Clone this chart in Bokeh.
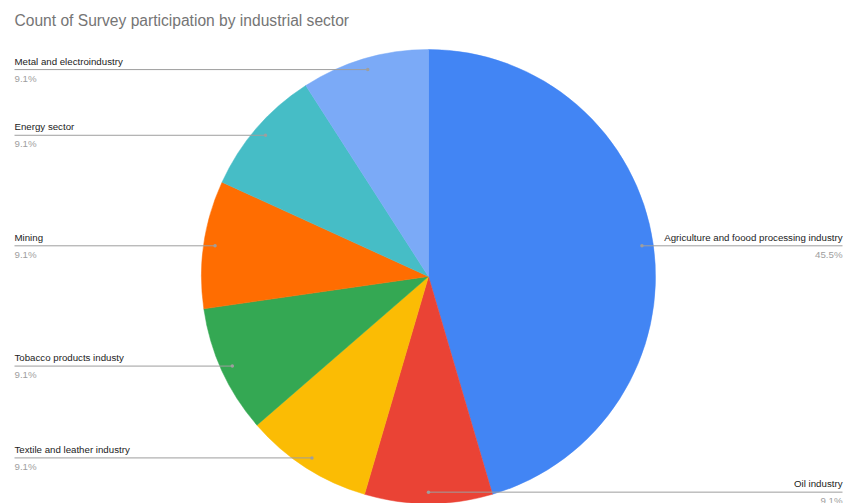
import math
from bokeh.plotting import figure
from bokeh.models import Range1d, ColumnDataSource
from bokeh.core.properties import value
from bokeh.embed import file_html
from bokeh.resources import INLINE

# ---- data ----
sectors = [
    "Agriculture and foood processing industry",
    "Oil industry",
    "Textile and leather industry",
    "Tobacco products industy",
    "Mining",
    "Energy sector",
    "Metal and electroindustry",
]
counts = [5, 1, 1, 1, 1, 1, 1]
colors = ["#4285F4", "#EA4335", "#FBBC04", "#34A853", "#FF6D01", "#46BDC6", "#7BAAF7"]
title_text = "Count of Survey participation by industrial sector"

# ---- layout ----
W, H = 844, 503
cx, cy = 428, H - 276
R = 227
anchor_r = 0.95 * R
left_x, right_x = 14, 842
FONT = value("Liberation Sans")

total = sum(counts)
starts, ends, mids = [], [], []
acc = 0.0
for c in counts:
    a0 = math.pi / 2 - 2 * math.pi * acc / total
    acc += c
    a1 = math.pi / 2 - 2 * math.pi * acc / total
    starts.append(a0)
    ends.append(a1)
    mids.append((a0 + a1) / 2)

p = figure(width=W, height=H, output_backend="svg", toolbar_location=None,
           x_range=Range1d(0, W), y_range=Range1d(0, H), min_border=0)
p.axis.visible = False
p.grid.visible = False
p.outline_line_color = None
p.background_fill_color = "white"

src = ColumnDataSource(dict(start=starts, end=ends, color=colors))
p.wedge(x=cx, y=cy, radius=R, start_angle="start", end_angle="end",
        direction="clock", fill_color="color", line_color="color", line_width=0.5,
        source=src)

# leader lines and labels
lx0, lx1, ly, dotx, doty = [], [], [], [], []
nx, ny, nalign, names, px, py, pcts = [], [], [], [], [], [], []
for name, c, m in zip(sectors, counts, mids):
    ax = cx + anchor_r * math.cos(m)
    ay = cy + anchor_r * math.sin(m)
    right = math.cos(m) > -0.01
    ex = right_x if right else left_x
    lx0.append(ax); lx1.append(ex); ly.append(ay)
    dotx.append(ax); doty.append(ay)
    nx.append(ex); ny.append(ay + 3); nalign.append("right" if right else "left")
    names.append(name)
    px.append(ex); py.append(ay - 3)
    pcts.append(f"{100 * c / total:.1f}%")

p.segment(x0=lx0, y0=ly, x1=lx1, y1=ly, line_color="#9e9e9e", line_width=1)
p.scatter(x=dotx, y=doty, size=3.5, fill_color="#9e9e9e", line_color=None)

lsrc = ColumnDataSource(dict(nx=nx, ny=ny, al=nalign, names=names, px=px, py=py, pcts=pcts))
p.text(x="nx", y="ny", text="names", text_align="al", text_baseline="bottom",
       text_font=FONT, text_font_size="9.7px", text_color="#222222", source=lsrc)
p.text(x="px", y="py", text="pcts", text_align="al", text_baseline="top",
       text_font=FONT, text_font_size="9.7px", text_color="#9e9e9e", source=lsrc)

p.text(x=[14], y=[H - 11], text=[title_text], text_align="left", text_baseline="top",
       text_font=FONT, text_font_size="15.6px", text_color="#757575")

open("out.html", "w").write(file_html(p, INLINE))
